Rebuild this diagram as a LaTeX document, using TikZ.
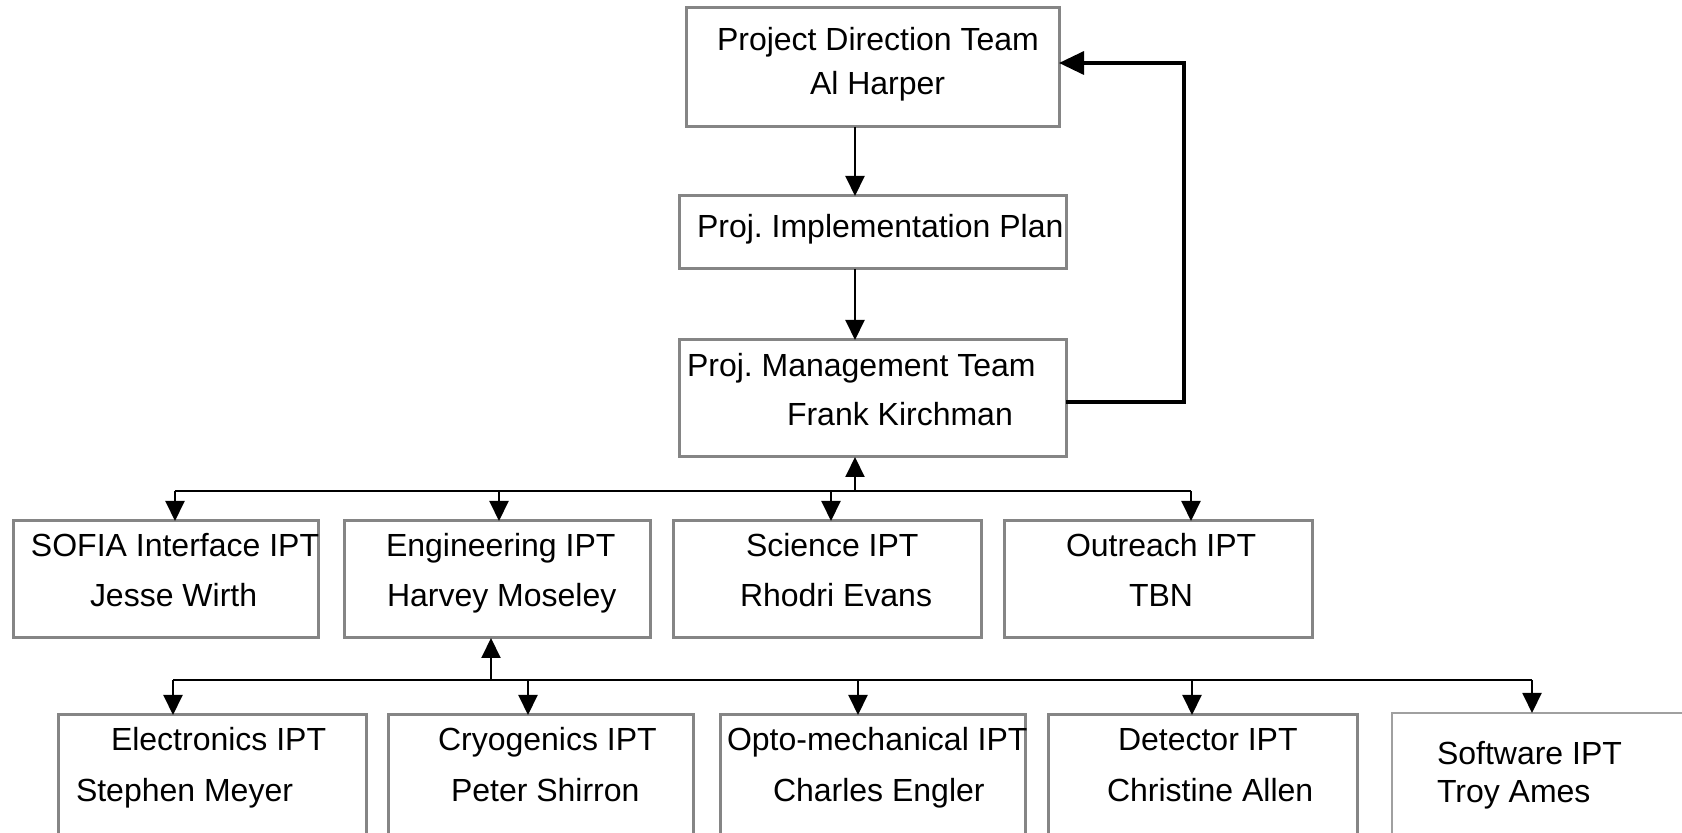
\documentclass[tikz,border=0pt]{standalone}
\usepackage{fontspec}
\setmainfont{Liberation Sans}
\usetikzlibrary{arrows.meta}
\definecolor{boxgray}{HTML}{858585}
\definecolor{lightgray}{HTML}{A0A0A0}
\frenchspacing
\begin{document}
\begin{tikzpicture}[x=0.5pt,y=-0.5pt,
  box/.style={draw=boxgray, line width=1.5pt, inner sep=0pt, outer sep=0pt},
  softbox/.style={draw=lightgray, line width=0.8pt, inner sep=0pt, outer sep=0pt},
  lbl/.style={anchor=base west, inner sep=0pt, outer sep=0pt, font=\fontsize{16}{19}\selectfont},
  conn/.style={line width=1pt},
  arr/.style={conn, -{Triangle[length=10pt,width=9.5pt]}},
  fb/.style={line width=1.75pt, -{Triangle[length=12.5pt,width=11.5pt]}}]
\useasboundingbox (0,0) rectangle (1682,833);
\fill[white] (0,0) rectangle (1682,833);
\clip (0,0) rectangle (1682,833);

% top boxes
\node[box, minimum width=186.5pt, minimum height=59.5pt] (pdt) at (872.5,67.5) {};
\node[box, minimum width=193.5pt, minimum height=36.5pt] (pip) at (872.5,232.5) {};
\node[box, minimum width=193.5pt, minimum height=58.5pt] (pmt) at (872.5,398.5) {};

% level 2
\node[box, minimum width=152.5pt, minimum height=58.5pt] (sofia) at (165.5,579.5) {};
\node[box, minimum width=153pt, minimum height=58.5pt] (eng) at (497,579.5) {};
\node[box, minimum width=154pt, minimum height=58.5pt] (sci) at (827,579.5) {};
\node[box, minimum width=154pt, minimum height=58.5pt] (out) at (1158,579.5) {};

% level 3
\node[box, minimum width=154pt, minimum height=67.5pt] (ele) at (212,782.5) {};
\node[box, minimum width=152.5pt, minimum height=67.5pt] (cry) at (540.5,782.5) {};
\node[box, minimum width=152.5pt, minimum height=67.5pt] (opt) at (872.5,782.5) {};
\node[box, minimum width=154.5pt, minimum height=67.5pt] (det) at (1202.5,782.5) {};
\node[softbox, minimum width=164pt, minimum height=68.5pt] (sw) at (1556,781.5) {};

% texts
\node[lbl] (pdt1) at (717,51) {Project Direction Team};
\node[lbl] (pdt2) at (810,95) {Al Harper};
\node[lbl] (pip1) at (697,238) {Proj. Implementation Plan};
\node[lbl] (pmt1) at (687,377) {Proj. Management Team};
\node[lbl] (pmt2) at (787,426) {Frank Kirchman};

\node[lbl] (sofia1) at (31,557) {SOFIA Interface IPT};
\node[lbl] (sofia2) at (90,607) {Jesse Wirth};
\node[lbl] (eng1) at (386,557) {Engineering IPT};
\node[lbl] (eng2) at (387,607) {Harvey Moseley};
\node[lbl] (sci1) at (746,557) {Science IPT};
\node[lbl] (sci2) at (740,607) {Rhodri Evans};
\node[lbl] (out1) at (1066,557) {Outreach IPT};
\node[lbl] (out2) at (1129,607) {TBN};

\node[lbl] (ele1) at (111,751) {Electronics IPT};
\node[lbl] (ele2) at (76,801) {Stephen Meyer};
\node[lbl] (cry1) at (438,751) {Cryogenics IPT};
\node[lbl] (cry2) at (451,801) {Peter Shirron};
\node[lbl] (opt1) at (727,751) {Opto-mechanical IPT};
\node[lbl] (opt2) at (773,801) {Charles Engler};
\node[lbl] (det1) at (1118,751) {Detector IPT};
\node[lbl] (det2) at (1107,801) {Christine Allen};
\node[lbl] (sw1) at (1437,764) {Software IPT};
\node[lbl] (sw2) at (1437,802) {Troy Ames};

% connector coordinates
\coordinate (xmain) at (855,0);
\coordinate (b1L) at (175,491);
\coordinate (b1R) at (1191,491);
\coordinate (b1c) at (855,491);
\coordinate (b1e) at (499,491);
\coordinate (b1s) at (831,491);
\coordinate (b2L) at (173,680);
\coordinate (b2R) at (1532,680);
\coordinate (b2c) at (491,680);
\coordinate (b2cr) at (528,680);
\coordinate (b2o) at (858,680);
\coordinate (b2d) at (1192,680);
\coordinate (fbr) at (1184,402);
\coordinate (fbt) at (1184,63);

% vertical chain
\draw[arr] (pdt.south -| xmain) -- (pip.north -| xmain);
\draw[arr] (pip.south -| xmain) -- (pmt.north -| xmain);

% bus 1
\draw[conn] (b1L) -- (b1R);
\draw[arr] (b1c) -- (pmt.south -| b1c);
\draw[arr] (b1L) -- (sofia.north -| b1L);
\draw[arr] (b1e) -- (eng.north -| b1e);
\draw[arr] (b1s) -- (sci.north -| b1s);
\draw[arr] (b1R) -- (out.north -| b1R);

% bus 2
\draw[conn] (b2L) -- (b2R);
\draw[arr] (b2c) -- (eng.south -| b2c);
\draw[arr] (b2L) -- (ele.north -| b2L);
\draw[arr] (b2cr) -- (cry.north -| b2cr);
\draw[arr] (b2o) -- (opt.north -| b2o);
\draw[arr] (b2d) -- (det.north -| b2d);
\draw[arr] (b2R) -- (sw.north -| b2R);

% feedback
\draw[fb] (pmt.east |- fbr) -- (fbr) -- (fbt) -- (pdt.east |- fbt);
\end{tikzpicture}
\end{document}
